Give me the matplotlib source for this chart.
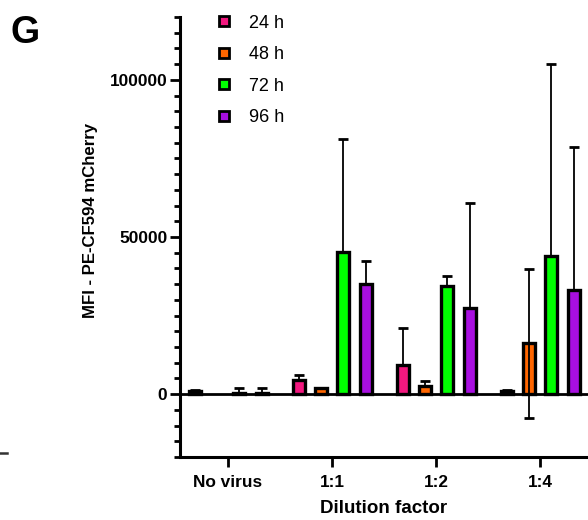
import numpy as np
import matplotlib.pyplot as plt
from matplotlib.lines import Line2D

plt.rcParams['font.family'] = ['Liberation Sans', 'DejaVu Sans']

groups = ['No virus', '1:1', '1:2', '1:4']
series = ['24 h', '48 h', '72 h', '96 h']
colors = ['#F2187F', '#FF6600', '#00FF00', '#A80FE0']

mean_24h = [1000, 4500, 9200, 1000]
sd_24h = [300, 1500, 12000, 300]
mean_48h = [np.nan, 2100, 2650, 16200]
sd_48h = [0, 0, 1450, 23700]
mean_72h = [500, 45200, 34300, 43900]
sd_72h = [1300, 36000, 3400, 61100]
mean_96h = [500, 35000, 27300, 33100]
sd_96h = [1400, 7300, 33500, 45600]

# lower whiskers are only drawn where they cross below zero
low_24h = [0, 0, 0, 0]
low_48h = [0, 0, 0, 23700]
low_72h = [0, 0, 0, 0]
low_96h = [0, 0, 0, 0]

means = [mean_24h, mean_48h, mean_72h, mean_96h]
sds = [sd_24h, sd_48h, sd_72h, sd_96h]
lows = [low_24h, low_48h, low_72h, low_96h]

fig = plt.figure(figsize=(5.88, 5.2), dpi=100)
ax = fig.add_axes([180 / 588, 63 / 520, 408 / 588, 440 / 520])

x = np.arange(len(groups))
offsets = [-0.32, -0.105, 0.105, 0.325]
width = 0.115

for m, s, lo, off, c in zip(means, sds, lows, offsets, colors):
    ax.bar(x + off, m, width, color=c, edgecolor='black', linewidth=2.4, zorder=2)
    ax.errorbar(x + off, m, yerr=[lo, s], fmt='none', ecolor='black',
                elinewidth=1.3, capsize=3.5, capthick=2, zorder=3)

ax.axhline(0, color='black', lw=2, zorder=4)

ax.set_xlim(-0.46, 3.46)
ax.set_ylim(-20000, 120000)
ax.set_yticks([0, 50000, 100000])
ax.set_yticks(np.arange(-20000, 120001, 5000), minor=True)
ax.set_xticks(x)
ax.set_xticklabels(groups, fontsize=12.4, fontweight='bold')
for lbl in ax.get_yticklabels():
    lbl.set_fontsize(12.4)
    lbl.set_fontweight('bold')

for side in ['top', 'right']:
    ax.spines[side].set_visible(False)
for side in ['left', 'bottom']:
    ax.spines[side].set_linewidth(2.2)
ax.tick_params(axis='y', which='major', length=7, width=2, pad=2)
ax.tick_params(axis='y', which='minor', length=4.5, width=2)
ax.tick_params(axis='x', which='major', length=7, width=2, pad=6)

ax.set_xlabel('Dilution factor', fontsize=13.5, fontweight='bold', labelpad=7)
fig.text(90 / 588, 1 - 220 / 520, 'MFI - PE-CF594 mCherry', rotation=90,
         ha='center', va='center', fontsize=12.1, fontweight='bold')

handles = [Line2D([], [], marker='s', linestyle='none', markersize=7,
                  markerfacecolor=c, markeredgecolor='black', markeredgewidth=2)
           for c in colors]
ax.legend(handles, series, loc='upper left', bbox_to_anchor=(0.045, 1.042),
          frameon=False, fontsize=13, handletextpad=0.9, labelspacing=0.8,
          handlelength=1.0)

fig.text(10 / 588, 1 - 43 / 520, 'G', fontsize=27, fontweight='bold')
fig.add_artist(Line2D([0, 7 / 588], [1 - 453 / 520, 1 - 453 / 520],
                      color='#333333', lw=1.8))

fig.savefig('out.png', dpi=100)
